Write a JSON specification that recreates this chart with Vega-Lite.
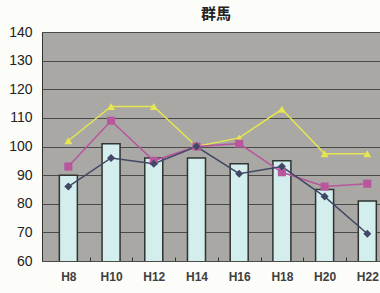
{
  "$schema": "https://vega.github.io/schema/vega-lite/v6.json",
  "autosize": {"type": "none"},
  "width": 338,
  "height": 229,
  "padding": {"left": 42, "top": 32, "right": 0, "bottom": 32},
  "background": "#fcfcf8",
  "title": {"text": "群馬", "fontSize": 15, "fontWeight": "bold", "color": "#222222", "dx": 5, "offset": 3, "font": "Noto Sans CJK JP"},
  "config": {
    "view": {"fill": "#a9a8a4", "stroke": "#333333", "strokeWidth": 1},
    "axis": {"labelFont": "Liberation Sans", "labelColor": "#222222", "domain": false}
  },
  "datasets": {
    "bars": [
      {"year": 8, "value": 90},
      {"year": 10, "value": 101},
      {"year": 12, "value": 96},
      {"year": 14, "value": 96},
      {"year": 16, "value": 94},
      {"year": 18, "value": 95},
      {"year": 20, "value": 85},
      {"year": 22, "value": 81}
    ],
    "lines": [
      {"year": 8, "series": "yellow", "value": 102},
      {"year": 10, "series": "yellow", "value": 114},
      {"year": 12, "series": "yellow", "value": 114},
      {"year": 14, "series": "yellow", "value": 100},
      {"year": 16, "series": "yellow", "value": 103},
      {"year": 18, "series": "yellow", "value": 113},
      {"year": 20, "series": "yellow", "value": 97.5},
      {"year": 22, "series": "yellow", "value": 97.5},
      {"year": 8, "series": "pink", "value": 93},
      {"year": 10, "series": "pink", "value": 109},
      {"year": 12, "series": "pink", "value": 95},
      {"year": 14, "series": "pink", "value": 100},
      {"year": 16, "series": "pink", "value": 101},
      {"year": 18, "series": "pink", "value": 91},
      {"year": 20, "series": "pink", "value": 86},
      {"year": 22, "series": "pink", "value": 87},
      {"year": 8, "series": "navy", "value": 86},
      {"year": 10, "series": "navy", "value": 96},
      {"year": 12, "series": "navy", "value": 94},
      {"year": 14, "series": "navy", "value": 100},
      {"year": 16, "series": "navy", "value": 90.5},
      {"year": 18, "series": "navy", "value": 93},
      {"year": 20, "series": "navy", "value": 82.5},
      {"year": 22, "series": "navy", "value": 69.5}
    ]
  },
  "layer": [
    {
      "data": {"name": "bars"},
      "mark": {"type": "bar", "size": 18, "fill": "#d4eeee", "stroke": "#2e3430", "strokeWidth": 1.5, "clip": true},
      "encoding": {
        "x": {"field": "year", "type": "quantitative", "scale": {"domain": [7, 22.36], "nice": false, "zero": false},
          "axis": {"title": null, "orient": "bottom", "values": [8, 10, 12, 14, 16, 18, 20, 22], "labelExpr": "'H' + datum.value", "ticks": false, "grid": false, "labelPadding": 10, "labelFontSize": 12, "labelFontWeight": "bold", "labelColor": "#404040", "labelFlush": false}},
        "y": {"field": "value", "type": "quantitative", "scale": {"domain": [60, 140], "nice": false, "zero": false},
          "axis": {"title": null, "values": [60, 70, 80, 90, 100, 110, 120, 130, 140], "ticks": false, "grid": true, "gridColor": "#4a4a48", "gridWidth": 1, "gridOpacity": 1, "labelFontSize": 14, "labelPadding": 10, "labelOverlap": false}}
      }
    },
    {
      "data": {"name": "lines"},
      "mark": {"type": "line", "strokeWidth": 1.5, "clip": true},
      "encoding": {
        "x": {"field": "year", "type": "quantitative",
          "axis": {"title": null, "orient": "bottom", "values": [9, 11, 13, 15, 17, 19, 21], "labels": false, "ticks": true, "tickSize": -4, "tickWidth": 1, "tickColor": "#333333", "grid": false, "zindex": 1}},
        "y": {"field": "value", "type": "quantitative",
          "axis": {"title": null, "values": [60, 70, 80, 90, 100, 110, 120, 130, 140], "ticks": false, "grid": true, "gridColor": "#4a4a48", "gridWidth": 1, "gridOpacity": 1, "labelFontSize": 14, "labelPadding": 10, "labelOverlap": false}},
        "color": {"field": "series", "type": "nominal", "legend": null,
          "scale": {"domain": ["yellow", "pink", "navy"], "range": ["#e6e650", "#b8569e", "#404866"]}},
        "order": {"field": "year", "type": "quantitative"}
      }
    },
    {
      "data": {"name": "lines"},
      "mark": {"type": "point", "filled": true, "opacity": 1, "size": 65, "clip": true},
      "encoding": {
        "x": {"field": "year", "type": "quantitative", "axis": null},
        "y": {"field": "value", "type": "quantitative",
          "axis": {"title": null, "values": [60, 70, 80, 90, 100, 110, 120, 130, 140], "ticks": false, "grid": true, "gridColor": "#4a4a48", "gridWidth": 1, "gridOpacity": 1, "labelFontSize": 14, "labelPadding": 10, "labelOverlap": false}},
        "color": {"field": "series", "type": "nominal", "legend": null,
          "scale": {"domain": ["yellow", "pink", "navy"], "range": ["#f0f040", "#b8509a", "#2a3050"]}},
        "shape": {"field": "series", "type": "nominal", "legend": null,
          "scale": {"domain": ["yellow", "pink", "navy"], "range": ["triangle-up", "square", "diamond"]}}
      }
    }
  ],
  "resolve": {"axis": {"x": "independent"}}
}
